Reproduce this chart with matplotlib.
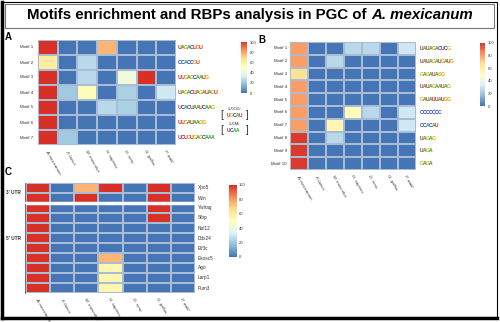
import numpy as np
import matplotlib
matplotlib.use('Agg')
import matplotlib.pyplot as plt
from matplotlib.colors import LinearSegmentedColormap
from matplotlib.patches import Rectangle

plt.rcParams['font.family'] = ['Liberation Sans', 'DejaVu Sans']

# 数据
species = ["A. mexicanum", "X. laevis", "M. musculus", "H. sapiens",
           "D. rerio", "G. gallus", "P. waltl"]

motifs_a = ["Motif 1", "Motif 2", "Motif 3", "Motif 4", "Motif 5", "Motif 6", "Motif 7"]
values_a = [
    [100, 0, 0, 75, 0, 0, 0],
    [60, 0, 25, 0, 0, 0, 0],
    [100, 0, 25, 0, 42, 100, 0],
    [100, 20, 52, 0, 22, 0, 30],
    [100, 0, 0, 25, 22, 0, 0],
    [100, 0, 0, 0, 0, 0, 0],
    [100, 20, 0, 0, 0, 0, 0],
]

motifs_b = ["Motif %d" % i for i in range(1, 11)]
values_b = [
    [80, 0, 0, 25, 25, 0, 30],
    [80, 0, 25, 0, 0, 0, 0],
    [65, 0, 0, 0, 0, 0, 0],
    [80, 0, 0, 0, 0, 0, 0],
    [80, 0, 0, 0, 0, 0, 0],
    [80, 0, 0, 52, 25, 0, 30],
    [80, 0, 55, 0, 0, 0, 30],
    [98, 0, 25, 0, 0, 0, 0],
    [98, 0, 0, 0, 0, 0, 0],
    [98, 0, 0, 0, 0, 0, 0],
]

rbps_c = ["Xpo5", "Wrn", "Ywhag", "Slbp", "Nol12", "Ddx24", "Eif3c",
          "Exosc5", "Ago", "Larp1", "Pum3"]
values_c = [
    [100, 0, 75, 100, 0, 100, 0],
    [100, 0, 100, 0, 0, 100, 0],
    [100, 0, 0, 0, 0, 100, 0],
    [100, 0, 0, 0, 0, 100, 0],
    [100, 0, 0, 0, 0, 0, 0],
    [100, 0, 0, 0, 0, 0, 0],
    [100, 0, 0, 0, 0, 0, 0],
    [100, 0, 0, 75, 0, 0, 0],
    [100, 0, 0, 55, 0, 0, 0],
    [100, 0, 0, 55, 0, 0, 0],
    [100, 0, 0, 55, 0, 0, 0],
]

logos_a = ["UAGACUGU", "CCACCGU", "UUGAGCAAUG", "UAGACUAGAUAGU", "UCACUAAUCAAG", "UUGAUAAGG", "UCUGUGAGCAAA"]
logos_b = ["UAUAGACUCG", "UAUAGAUGAUG", "GAGAUAGG", "UAUAGAAUAG", "GAUAUUAUGG", "CCCCCCC", "CCACAU", "UAGAG", "UAGA", "GAGA"]

# pheatmap 默认配色
cmap = LinearSegmentedColormap.from_list(
    "ph", ["#4575B4", "#91BFDB", "#E0F3F8", "#FFFFBF", "#FEE090", "#FC8D59", "#D73027"])

W, H = 500, 322
fig = plt.figure(figsize=(5, 3.22), dpi=100)


def box(x0, y0, x1, y1):
    return [x0 / W, 1 - y1 / H, (x1 - x0) / W, (y1 - y0) / H]


def fx(x, y):
    return x / W, 1 - y / H


letter_col = {"A": "#2ca02c", "C": "#1f3fbf", "G": "#e8a400", "U": "#d62728"}


def draw_logo(x, y, seq, size=4.2, step=3.0):
    for i, ch in enumerate(seq):
        fig.text(*fx(x + i * step, y), ch, color=letter_col[ch], fontsize=size,
                 fontweight='bold', ha='left', va='center')


def heat(rect, data, rows, gap=None):
    ax = fig.add_axes(rect)
    data = np.array(data)
    ax.pcolormesh(data, cmap=cmap, vmin=0, vmax=100, edgecolors='#a9bcd6', linewidth=0.12)
    ax.set_ylim(len(rows), 0)
    ax.set_xlim(0, data.shape[1])
    ax.set_yticks([])
    ax.set_xticks(np.arange(data.shape[1]) + 0.5)
    ax.set_xticklabels(species, rotation=-60, ha='left', va='top', fontsize=3.2,
                       fontstyle='italic', rotation_mode='anchor', color='#333333')
    ax.tick_params(length=0, pad=3)
    for s in ax.spines.values():
        s.set_visible(False)
    if gap is not None:
        ax.axhline(gap, color='white', lw=2.5)
    return ax


def cbar(rect):
    cax = fig.add_axes(rect)
    grad = np.linspace(0, 100, 200).reshape(-1, 1)
    cax.imshow(grad, aspect='auto', cmap=cmap, origin='lower', extent=[0, 1, 0, 100])
    cax.set_xticks([])
    cax.yaxis.tick_right()
    cax.set_yticks([0, 20, 40, 60, 80, 100])
    cax.tick_params(length=0, labelsize=3, pad=2, colors='#333333')
    for s in cax.spines.values():
        s.set_visible(False)


# Panel A
axA = heat(box(38, 40, 176, 145), values_a, motifs_a)
for i, m in enumerate(motifs_a):
    fig.text(*fx(33, 40 + (i + 0.5) * 15), m, fontsize=3.2, ha='right', va='center', color='#333333')
    draw_logo(178, 40 + (i + 0.5) * 15, logos_a[i], size=3.8, step=3.0)
cbar(box(241, 42, 247, 93))
for yy, lab, seq in [(115, "UUGCUU", "UGCAU"), (130, "UUCAA", "UCAA")]:
    fig.text(*fx(222, yy), "[", fontsize=7, ha='center', va='center', color='#333333')
    fig.text(*fx(247, yy), "]", fontsize=7, ha='center', va='center', color='#333333')
    fig.text(*fx(234, yy - 6), lab, fontsize=2.2, ha='center', va='center', color='#333333')
    draw_logo(227, yy, seq, size=3.4, step=3.0)

# Panel B
axB = heat(box(290, 42, 416, 170), values_b, motifs_b)
for i, m in enumerate(motifs_b):
    fig.text(*fx(287, 42 + (i + 0.5) * 12.8), m, fontsize=3.2, ha='right', va='center', color='#333333')
    draw_logo(420, 42 + (i + 0.5) * 12.8, logos_b[i], size=3.6, step=3.0)
cbar(box(480, 43, 485, 106))

# Panel C
axC = heat(box(26, 183, 195, 293), values_c, rbps_c, gap=2)
for i, r in enumerate(rbps_c):
    fig.text(*fx(198, 183 + (i + 0.5) * 10), r, fontsize=3.4, ha='left', va='center', color='#333333')
cbar(box(229, 185, 236, 257))
fig.add_artist(plt.Line2D([25 / W, 25 / W], [1 - 183 / H, 1 - 201 / H], color='#555555', lw=0.6))
fig.add_artist(plt.Line2D([25 / W, 25 / W], [1 - 204 / H, 1 - 293 / H], color='#555555', lw=0.6))
fig.text(*fx(13, 193), "3' UTR", fontsize=3.4, ha='center', va='center', fontweight='bold', color='#333333')
fig.text(*fx(13, 238), "5' UTR", fontsize=3.4, ha='center', va='center', fontweight='bold', color='#333333')

# 面板字母
fig.text(*fx(5, 37), "A", fontsize=7, fontweight='bold', ha='left', va='center')
fig.text(*fx(258, 40), "B", fontsize=7, fontweight='bold', ha='left', va='center')
fig.text(*fx(5, 172), "C", fontsize=7, fontweight='bold', ha='left', va='center')

# 标题: 普通部分 + 斜体部分
renderer = fig.canvas.get_renderer()
t1 = fig.text(0, 1 - 15 / H, "Motifs enrichment and RBPs analysis in PGC of ",
              fontsize=10.8, fontweight='bold', ha='left', va='center')
t2 = fig.text(0, 1 - 15 / H, "A. mexicanum", fontsize=10.8, fontweight='bold',
              fontstyle='italic', ha='left', va='center')
w1 = t1.get_window_extent(renderer).width
w2 = t2.get_window_extent(renderer).width
x0 = (W - w1 - w2) / 2
t1.set_x(x0 / W)
t2.set_x((x0 + w1) / W)

# 边框
fig.add_artist(Rectangle((2 / W, 1 - 318 / H), 495 / W, 316 / H, transform=fig.transFigure,
                         fill=False, ec='black', lw=0.8))
fig.add_artist(Rectangle((5 / W, 1 - 28 / H), 489 / W, 24 / H, transform=fig.transFigure,
                         fill=False, ec='#777777', lw=0.8))
fig.add_artist(plt.Line2D([2 / W, 2 / W], [1 - 318 / H, 1 - 2 / H], color='black', lw=2.5))
fig.add_artist(plt.Line2D([2 / W, 497 / W], [1 - 318 / H, 1 - 318 / H], color='black', lw=2.5))

fig.savefig("out.png", dpi=100)
